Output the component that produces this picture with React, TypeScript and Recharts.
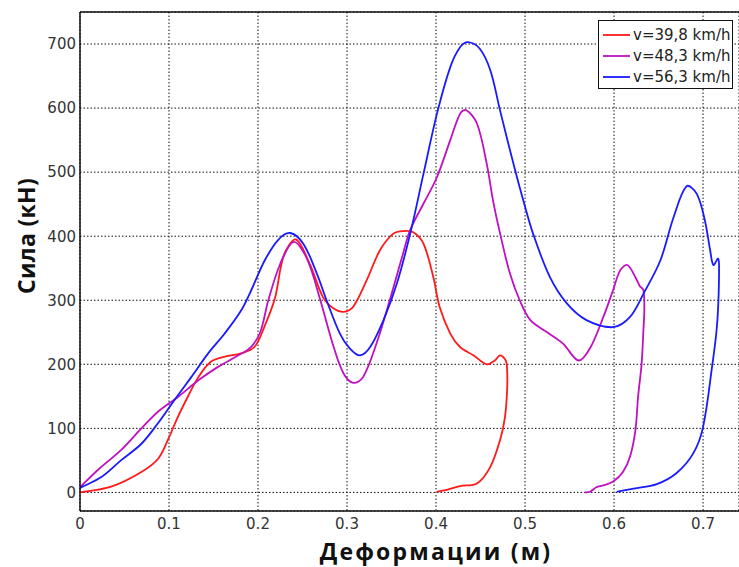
import React from 'react';
import { LineChart, Line, XAxis, YAxis, CartesianGrid, ReferenceLine } from 'recharts';

// Force vs. deformation for three impact speeds.
// Deformation in metres, force in kN. Curves loop back at the end (unloading),
// so each series is drawn in sample order against a numeric x axis.

const SPEEDS = ['v=39,8 km/h', 'v=48,3 km/h', 'v=56,3 km/h'];
const COLORS = ['#ff1a1a', '#c010c0', '#1a1aff'];

const DEF_398 = [0, 0.035, 0.069, 0.088, 0.1, 0.11, 0.121, 0.133, 0.147, 0.163, 0.181, 0.196, 0.207, 0.219, 0.229, 0.2425, 0.258, 0.273, 0.285, 0.296, 0.307, 0.322, 0.337, 0.352, 0.363, 0.3745, 0.386, 0.397, 0.404, 0.416, 0.427, 0.442, 0.457, 0.466, 0.472, 0.4775, 0.4795, 0.48, 0.4775, 0.472, 0.461, 0.446, 0.427, 0.412, 0.401];
const FORCE_398 = [0, 9, 32, 53, 86, 118, 149, 180, 204, 212, 217, 227, 258, 303, 370, 395, 357, 305, 287, 282, 290, 331, 378, 404, 408, 406, 388, 336, 290, 248, 227, 214, 200, 206, 214, 208, 200, 165, 118, 82, 40, 14, 10, 4, 1];

const DEF_483 = [0, 0.02, 0.046, 0.069, 0.0876, 0.11, 0.133, 0.155, 0.178, 0.192, 0.2025, 0.2116, 0.225, 0.24, 0.255, 0.27, 0.285, 0.296, 0.307, 0.318, 0.333, 0.348, 0.363, 0.371, 0.386, 0.401, 0.416, 0.427, 0.4337, 0.446, 0.457, 0.464, 0.472, 0.483, 0.494, 0.506, 0.526, 0.543, 0.56, 0.573, 0.588, 0.599, 0.607, 0.615, 0.624, 0.629, 0.633, 0.634, 0.633, 0.631, 0.627, 0.624, 0.618, 0.61, 0.599, 0.588, 0.58, 0.573, 0.567];
const FORCE_483 = [8, 35, 66, 100, 126, 149, 175, 196, 214, 227, 250, 300, 357, 391, 365, 300, 227, 186, 171, 180, 232, 300, 373, 410, 451, 492, 550, 591, 597, 576, 513, 456, 404, 342, 300, 269, 249, 232, 206, 225, 274, 316, 347, 355, 336, 322, 316, 284, 253, 201, 149, 97, 56, 32, 17, 11, 8, 1, 0];

const DEF_563 = [0, 0.024, 0.046, 0.069, 0.0876, 0.106, 0.125, 0.144, 0.1625, 0.181, 0.1925, 0.2075, 0.2225, 0.236, 0.251, 0.266, 0.277, 0.292, 0.303, 0.3146, 0.326, 0.341, 0.356, 0.371, 0.386, 0.401, 0.416, 0.427, 0.436, 0.449, 0.461, 0.472, 0.487, 0.498, 0.509, 0.528, 0.547, 0.569, 0.599, 0.618, 0.633, 0.652, 0.667, 0.6816, 0.693, 0.702, 0.708, 0.7116, 0.717, 0.718, 0.717, 0.715, 0.7105, 0.7, 0.689, 0.67, 0.648, 0.622, 0.603];
const FORCE_563 = [7, 24, 50, 76, 108, 144, 180, 217, 248, 284, 316, 362, 394, 405, 388, 342, 300, 248, 225, 214, 227, 269, 326, 404, 498, 591, 664, 695, 703, 693, 659, 596, 513, 456, 404, 336, 295, 269, 258, 274, 310, 362, 430, 478, 466, 425, 378, 355, 365, 347, 290, 250, 200, 102, 61, 30, 13, 6, 1];

const X_TICKS = [0, 0.1, 0.2, 0.3, 0.4, 0.5, 0.6, 0.7];
const Y_TICKS = [0, 100, 200, 300, 400, 500, 600, 700];

const toRows = (d: number[], f: number[]) => d.map((x, i) => ({ d: x, f: f[i] }));
const SERIES = [toRows(DEF_398, FORCE_398), toRows(DEF_483, FORCE_483), toRows(DEF_563, FORCE_563)];

// Cardinal spline with chord-weighted tangents, so uneven sample spacing
// doesn't produce overshoot. Works for curves that double back in x.
const smoothCurve = (context: any) => {
  let pts: number[][] = [];
  const dist = (a: number[], b: number[]) => Math.hypot(b[0] - a[0], b[1] - a[1]) || 1e-6;
  return {
    areaStart() {},
    areaEnd() {},
    lineStart() { pts = []; },
    point(x: number, y: number) { pts.push([+x, +y]); },
    lineEnd() {
      if (!pts.length) return;
      context.moveTo(pts[0][0], pts[0][1]);
      for (let i = 0; i < pts.length - 1; i++) {
        const p0 = pts[i - 1] ?? pts[i];
        const p1 = pts[i];
        const p2 = pts[i + 1];
        const p3 = pts[i + 2] ?? p2;
        const d01 = i > 0 ? dist(p0, p1) : 0;
        const d12 = dist(p1, p2);
        const d23 = i + 2 < pts.length ? dist(p2, p3) : 0;
        const k1 = d12 / (d01 + d12) / 3;
        const k2 = d12 / (d12 + d23) / 3;
        context.bezierCurveTo(
          p1[0] + (p2[0] - p0[0]) * k1, p1[1] + (p2[1] - p0[1]) * k1,
          p2[0] - (p3[0] - p1[0]) * k2, p2[1] - (p3[1] - p1[1]) * k2,
          p2[0], p2[1],
        );
      }
    },
  };
};

const FONT = '"DejaVu Sans", Verdana, sans-serif';
const TITLE_FONT = '"Open Sans", sans-serif';
const tickStyle = { fontSize: 15, fill: '#333', fontFamily: FONT };
const axisLine = { stroke: '#111', strokeWidth: 1.5 };

export default function App() {
  return (
    <div style={{ position: 'absolute', left: 0, top: 0, width: 739, height: 567, background: '#fff', fontFamily: FONT }}>
      <LineChart width={739} height={567} margin={{ top: 12, right: 0, bottom: 0, left: 0 }}>
        <CartesianGrid stroke="#111" strokeDasharray="1.5 2" strokeWidth={1} />
        <XAxis
          type="number"
          dataKey="d"
          domain={[0, 0.7404]}
          ticks={X_TICKS}
          allowDataOverflow
          height={56}
          tickSize={0}
          tickMargin={7}
          tick={tickStyle}
          axisLine={axisLine}
        />
        <YAxis
          type="number"
          domain={[-29, 750]}
          ticks={Y_TICKS}
          allowDataOverflow
          width={80}
          tickSize={0}
          tickMargin={4}
          tick={tickStyle}
          axisLine={axisLine}
        />
        {/* top frame */}
        <ReferenceLine y={750} stroke="#111" strokeWidth={1.5} />
        {SERIES.map((rows, i) => (
          <Line
            key={SPEEDS[i]}
            data={rows}
            dataKey="f"
            name={SPEEDS[i]}
            type={smoothCurve as any}
            stroke={COLORS[i]}
            strokeWidth={1.8}
            dot={false}
            activeDot={false}
            isAnimationActive={false}
          />
        ))}
      </LineChart>

      {/* Axis titles */}
      <div style={{ position: 'absolute', left: 436, top: 551, transform: 'translate(-50%, -50%)', fontSize: 23, letterSpacing: 2.2, fontWeight: 'bold', color: '#111', whiteSpace: 'nowrap', fontFamily: TITLE_FONT }}>
        Деформации (м)
      </div>
      <div style={{ position: 'absolute', left: 26, top: 236, transform: 'translate(-50%, -50%) rotate(-90deg)', fontSize: 23, letterSpacing: 0.3, fontWeight: 'bold', color: '#111', whiteSpace: 'nowrap', fontFamily: TITLE_FONT }}>
        Сила (кН)
      </div>

      {/* Legend box */}
      <div style={{ position: 'absolute', left: 598, top: 20, width: 133, height: 67, border: '1.5px solid #111', background: '#fff' }}>
        {SPEEDS.map((s, i) => (
          <div key={s} style={{ position: 'absolute', left: 4, top: 4 + i * 21, height: 20, display: 'flex', alignItems: 'center' }}>
            <svg width={28} height={4} style={{ display: 'block' }}>
              <line x1={0} y1={2} x2={27} y2={2} stroke={COLORS[i]} strokeWidth={1.8} />
            </svg>
            <span style={{ fontSize: 15, color: '#222', marginLeft: 2, whiteSpace: 'nowrap' }}>{s}</span>
          </div>
        ))}
      </div>
    </div>
  );
}
